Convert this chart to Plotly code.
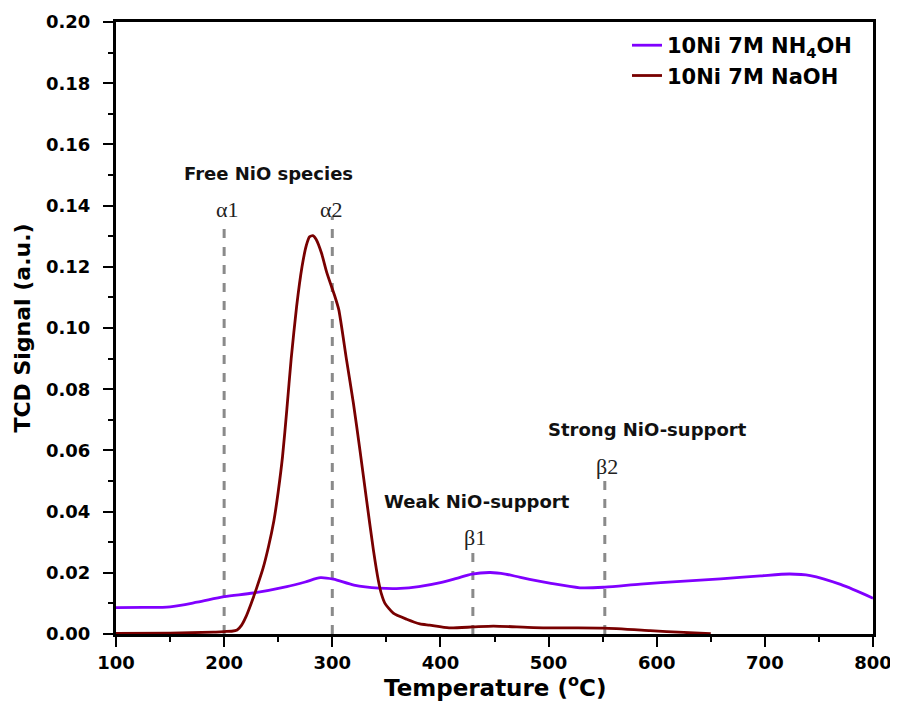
import plotly.graph_objects as go

# ---- data ----
temp_nh4oh = [100, 125, 150, 175, 200, 227, 258, 275, 289, 301, 320, 343, 363, 380,
              400, 415, 429, 446, 460, 474, 501, 529, 552, 585, 622, 659, 696, 723,
              742, 770, 800]
tcd_nh4oh = [0.0086, 0.0087, 0.0089, 0.0104, 0.0122, 0.0134, 0.0155, 0.0170, 0.0184,
             0.0179, 0.0160, 0.0150, 0.0149, 0.0155, 0.0168, 0.0182, 0.0196, 0.0201,
             0.0196, 0.0185, 0.0166, 0.0151, 0.0153, 0.0163, 0.0172, 0.0180, 0.0190,
             0.0196, 0.0191, 0.0162, 0.0117]

temp_naoh = [100, 150, 190, 200, 207, 212, 216, 220, 225, 230, 236, 241, 246, 250, 254,
             258, 262, 267, 272, 276, 279, 282, 285, 290, 295, 302.5, 306, 313, 319.5,
             325.6, 331.8, 338, 342.6, 345.5, 348.7, 356.4, 368.8, 381, 390, 408, 430,
             449, 486, 520, 551, 594, 625, 650]
tcd_naoh = [0.0002, 0.0003, 0.0006, 0.0008, 0.0009, 0.0013, 0.0028, 0.0055, 0.0100,
            0.0150, 0.0215, 0.0285, 0.0370, 0.0465, 0.0580, 0.0735, 0.0900, 0.1070,
            0.1200, 0.1270, 0.1298, 0.1302, 0.1290, 0.1245, 0.1180, 0.1102, 0.1060,
            0.0900, 0.0755, 0.0600, 0.0435, 0.0275, 0.0175, 0.0130, 0.0100, 0.0068,
            0.0048, 0.0033, 0.0029, 0.0020, 0.0023, 0.0026, 0.0021, 0.0020, 0.0019,
            0.0011, 0.0005, 0.0001]

series_names = ["10Ni 7M NH<sub>4</sub>OH", "10Ni 7M NaOH"]

peak_labels = ["\u03b11", "\u03b12", "\u03b21", "\u03b22"]
peak_temps = [200, 300, 430, 552]
peak_line_tops = [0.134, 0.1365, 0.0265, 0.051]

region_labels = ["Free NiO species", "Weak NiO-support", "Strong NiO-support"]

x_ticks = [100, 200, 300, 400, 500, 600, 700, 800]
y_ticks = [0.00, 0.02, 0.04, 0.06, 0.08, 0.10, 0.12, 0.14, 0.16, 0.18, 0.20]

x_title = "Temperature (<sup>o</sup>C)"
y_title = "TCD Signal (a.u.)"

# ---- text placement (layout, not data) ----
peak_label_x = [203, 299.5, 432, 554]
peak_label_y = [0.1386, 0.1386, 0.0317, 0.0549]
region_x = [241, 433.5, 591.5]
region_y = [0.1505, 0.0432, 0.0667]

# ---- figure ----
fig = go.Figure()
fig.add_trace(go.Scatter(x=temp_nh4oh, y=tcd_nh4oh, mode="lines", name=series_names[0],
                         line=dict(color="#8000ff", width=2.8, shape="spline", smoothing=0.8)))
fig.add_trace(go.Scatter(x=temp_naoh, y=tcd_naoh, mode="lines", name=series_names[1],
                         line=dict(color="#780000", width=2.8, shape="spline", smoothing=0.6)))

for t, top in zip(peak_temps, peak_line_tops):
    fig.add_shape(type="line", xref="x", yref="y", x0=t, x1=t, y0=0, y1=top,
                  line=dict(color="#8a8a8a", width=3, dash="dash"), layer="below")

for lab, x, y in zip(peak_labels, peak_label_x, peak_label_y):
    fig.add_annotation(x=x, y=y, xref="x", yref="y", text=lab, showarrow=False,
                       yanchor="middle",
                       font=dict(family="Liberation Serif", size=22, color="#222"))

for lab, x, y in zip(region_labels, region_x, region_y):
    fig.add_annotation(x=x, y=y, xref="x", yref="y", text="<b>" + lab + "</b>",
                       showarrow=False, font=dict(family="DejaVu Sans", size=18, color="#111"))

# x-axis title (placed closer to the tick labels than standoff allows)
fig.add_annotation(x=0.5, y=0, xref="paper", yref="paper", yshift=-52, yanchor="middle",
                   text="<b>" + x_title + "</b>", showarrow=False,
                   font=dict(family="DejaVu Sans", size=23, color="black"))

axis_font = dict(family="DejaVu Sans", size=18, color="black")
fig.update_xaxes(range=[100, 800], tickvals=x_ticks, ticktext=[f"<b>{v}</b>" for v in x_ticks],
                 ticks="outside", ticklen=10, tickwidth=2, tickcolor="black",
                 minor=dict(dtick=50, ticks="outside", ticklen=5, tickwidth=2, tickcolor="black"),
                 showline=True, linewidth=3, linecolor="black", mirror=True,
                 showgrid=False, zeroline=False, tickfont=axis_font, automargin=False)
fig.update_yaxes(range=[0, 0.20], tickvals=y_ticks, ticktext=[f"<b>{v:.2f}</b>" for v in y_ticks],
                 ticks="outside", ticklen=10, tickwidth=2, tickcolor="black",
                 minor=dict(dtick=0.01, ticks="outside", ticklen=5, tickwidth=2, tickcolor="black"),
                 showline=True, linewidth=3, linecolor="black", mirror=True,
                 showgrid=False, zeroline=False, tickfont=axis_font, automargin=False,
                 ticklabelstandoff=9,
                 title=dict(text="<b>" + y_title + "</b>",
                            font=dict(family="DejaVu Sans", size=22, color="black"), standoff=10))

# page body has an 8px margin: figure is placed at (8, 8)
fig.update_layout(
    width=890, height=704,
    margin=dict(l=108, r=25, t=14, b=78),
    plot_bgcolor="white", paper_bgcolor="white",
    legend=dict(x=0.675, y=0.995, xanchor="left", yanchor="top",
                font=dict(family="DejaVu Sans", size=21, color="black"),
                bgcolor="rgba(0,0,0,0)", tracegroupgap=0),
    showlegend=True,
)
for tr in fig.data:
    tr.name = "<b>" + tr.name + "</b>"

fig.write_html("out.html")
